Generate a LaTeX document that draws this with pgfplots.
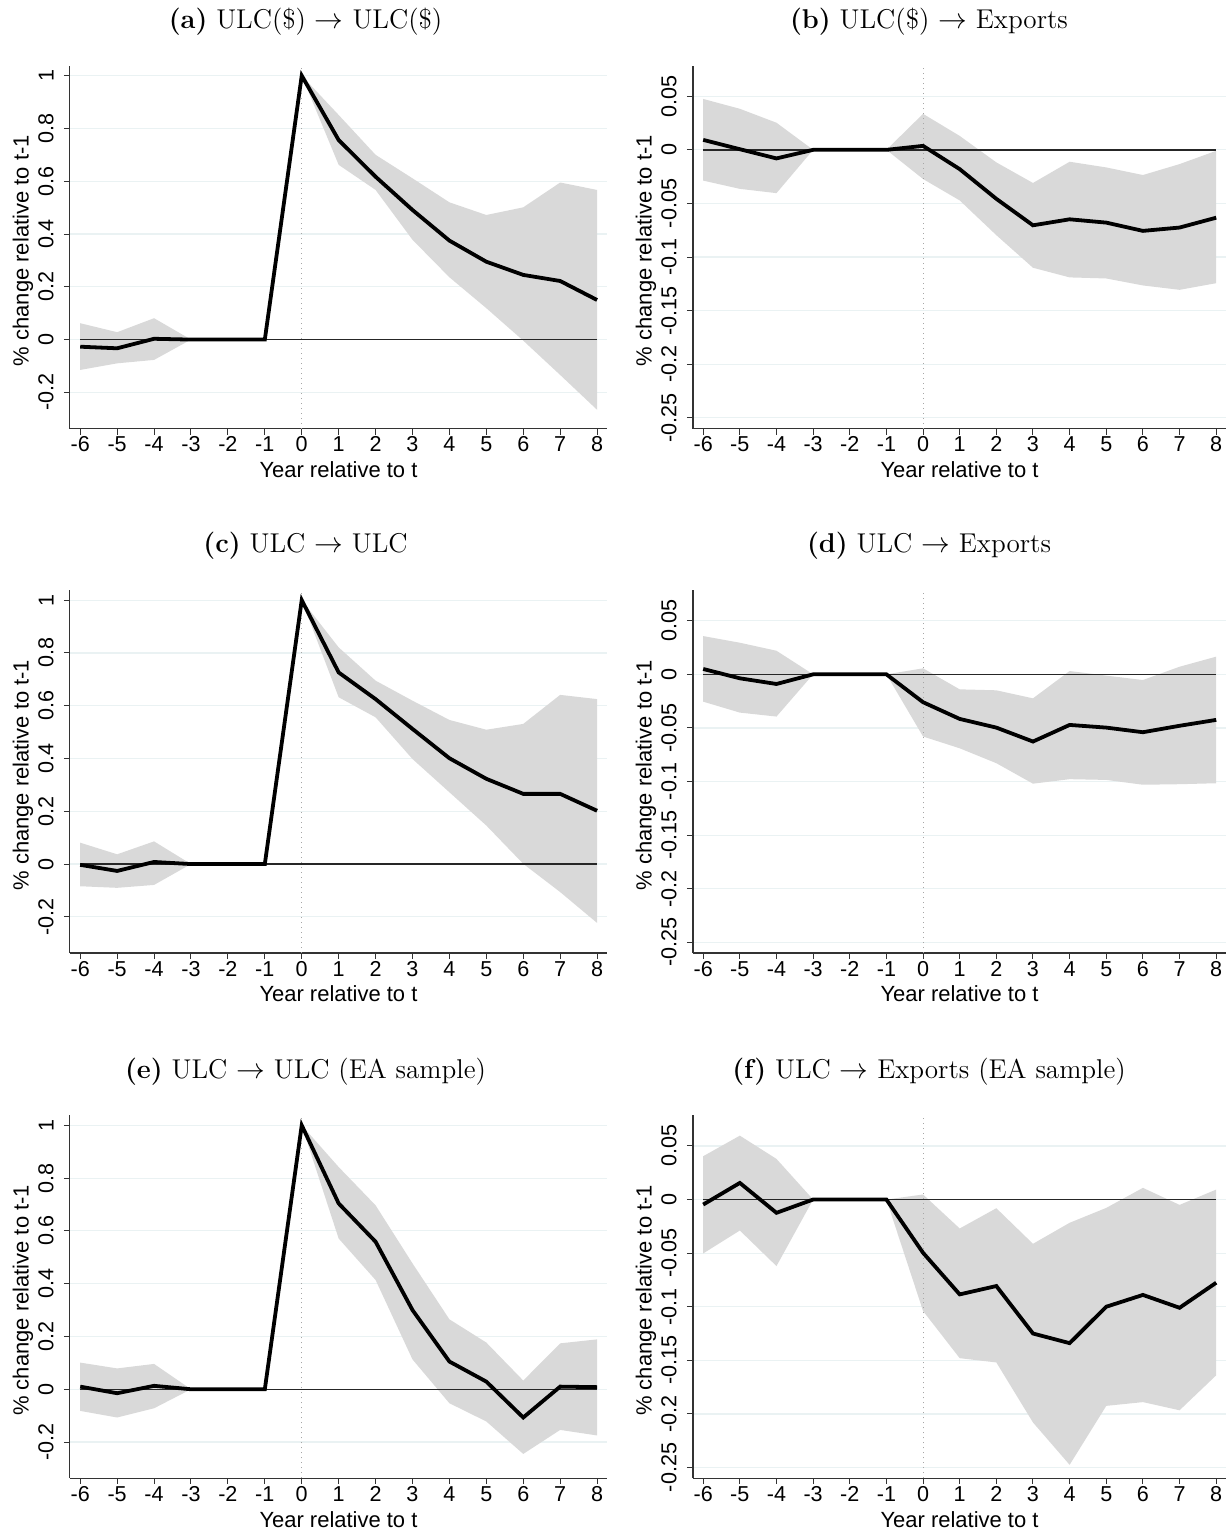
\documentclass[border=0pt]{standalone}
\usepackage{pgfplots}
\pgfplotsset{compat=1.18}
\usepackage{pgfplotstable}
\usepgfplotslibrary{fillbetween}
\usepackage{fontspec}
\newfontfamily\arial{Liberation Sans}
\definecolor{gridc}{HTML}{EAF2F3}
\definecolor{bandc}{HTML}{D9D9D9}

\pgfplotstableread{
x est lo hi
-6 -0.027 -0.115 0.062
-5 -0.033 -0.090 0.028
-4 0.003 -0.077 0.081
-3 0 0 0
-2 0 0 0
-1 0 0 0
0 1 1 1
1 0.756 0.662 0.851
2 0.617 0.567 0.700
3 0.491 0.378 0.611
4 0.375 0.236 0.520
5 0.295 0.119 0.472
6 0.245 -0.004 0.501
7 0.222 -0.134 0.595
8 0.150 -0.266 0.567
}\tA
\pgfplotstableread{
x est lo hi
-6 0.0093 -0.0287 0.0475
-5 0.0006 -0.0364 0.0383
-4 -0.008 -0.0404 0.0253
-3 0 0 0
-2 0 0 0
-1 0 0 0
0 0.0037 -0.0272 0.0336
1 -0.018 -0.0472 0.013
2 -0.0457 -0.0796 -0.0117
3 -0.0704 -0.110 -0.0309
4 -0.0648 -0.119 -0.0111
5 -0.0679 -0.120 -0.0164
6 -0.0756 -0.1265 -0.0235
7 -0.0725 -0.1306 -0.0133
8 -0.0633 -0.1244 -0.0009
}\tB
\pgfplotstableread{
x est lo hi
-6 -0.003 -0.084 0.081
-5 -0.026 -0.090 0.037
-4 0.008 -0.079 0.086
-3 0 0 0
-2 0 0 0
-1 0 0 0
0 1 1 1
1 0.726 0.632 0.821
2 0.625 0.556 0.695
3 0.512 0.398 0.619
4 0.401 0.272 0.546
5 0.323 0.146 0.509
6 0.266 0.001 0.531
7 0.266 -0.106 0.641
8 0.202 -0.223 0.625
}\tC
\pgfplotstableread{
x est lo hi
-6 0.005 -0.0255 0.0357
-5 -0.0037 -0.0357 0.0295
-4 -0.009 -0.0394 0.022
-3 0 0 0
-2 0 0 0
-1 0 0 0
0 -0.026 -0.058 0.0056
1 -0.0416 -0.069 -0.014
2 -0.0497 -0.0829 -0.0149
3 -0.0627 -0.102 -0.0224
4 -0.0472 -0.0978 0.0031
5 -0.0497 -0.0985 -0.0012
6 -0.054 -0.103 -0.0053
7 -0.048 -0.1025 0.0071
8 -0.0425 -0.1016 0.0165
}\tD
\pgfplotstableread{
x est lo hi
-6 0.010 -0.082 0.101
-5 -0.015 -0.107 0.079
-4 0.013 -0.072 0.096
-3 0 0 0
-2 0 0 0
-1 0 0 0
0 1 1 1
1 0.704 0.571 0.842
2 0.559 0.414 0.697
3 0.300 0.113 0.477
4 0.105 -0.053 0.265
5 0.029 -0.122 0.177
6 -0.107 -0.245 0.033
7 0.010 -0.154 0.174
8 0.008 -0.175 0.189
}\tE
\pgfplotstableread{
x est lo hi
-6 -0.0047 -0.0503 0.0404
-5 0.0155 -0.0289 0.0596
-4 -0.0124 -0.0621 0.0379
-3 0 0 0
-2 0 0 0
-1 0 0 0
0 -0.0497 -0.104 0.0047
1 -0.0885 -0.148 -0.027
2 -0.0807 -0.152 -0.0081
3 -0.125 -0.208 -0.0413
4 -0.134 -0.2475 -0.0217
5 -0.100 -0.1925 -0.0078
6 -0.089 -0.189 0.0109
7 -0.101 -0.1966 -0.005
8 -0.0776 -0.164 0.0093
}\tF

\pgfplotsset{
  irf/.style={
    scale only axis,
    height=181.75pt,
    axis x line*=bottom, axis y line*=left,
    xmin=-6.28, xmax=8.27,
    xtick={-6,-5,-4,-3,-2,-1,0,1,2,3,4,5,6,7,8},
    xticklabels={-6,-5,-4,-3,-2,-1,0,1,2,3,4,5,6,7,8},
    tick align=outside,
    major tick length=3pt,
    tick style={black!80, line width=0.5pt},
    axis line style={black!80, line width=0.6pt},
    ymajorgrids, grid style={color=gridc, line width=0.6pt},
    xticklabel style={font=\arial\fontsize{10.8}{12}\selectfont, anchor=north, inner sep=0pt},
    xticklabel shift=1pt,
    yticklabel style={font=\arial\fontsize{10.8}{12}\selectfont, rotate=90, anchor=south, inner sep=0pt},
    yticklabel shift=5pt,
    xlabel={Year relative to t},
    ylabel={\% change relative to t-1},
    every axis x label/.style={at={(axis description cs:0.5,0)}, anchor=base, yshift=-24.5pt, font=\arial\fontsize{11}{12}\selectfont},
    every axis y label/.style={at={(axis description cs:0,0.49)}, xshift=-23.5pt, rotate=90, anchor=center, font=\arial\fontsize{11}{12}\selectfont},
    every axis title/.style={anchor=base, yshift=18.6pt, font=\fontsize{13.6}{15}\selectfont},
    clip=false,
  },
  ulc/.style={
    irf, width=269pt,
    ymin=-0.337, ymax=1.038,
    ytick={-0.2,0,0.2,0.4,0.6,0.8,1},
    yticklabels={-0.2,0,0.2,0.4,0.6,0.8,1},
    title style={at={(axis description cs:0.4387,1)}},
  },
  exp/.style={
    irf, width=267pt,
    ymin=-0.26, ymax=0.0786,
    ytick={-0.25,-0.2,-0.15,-0.1,-0.05,0,0.05},
    yticklabels={-0.25,-0.2,-0.15,-0.1,-0.05,0,0.05},
    title style={at={(axis description cs:0.4428,1)}},
  },
}

\newcommand{\panel}[3]{%
  \addplot[gray!70, dotted, line width=0.5pt] coordinates {(0,#2) (0,#3)};
  \addplot[name path=hi, draw=none, forget plot] table[x=x,y=hi]{#1};
  \addplot[name path=lo, draw=none, forget plot] table[x=x,y=lo]{#1};
  \addplot[fill=bandc, draw=none] fill between[of=hi and lo];
  \addplot[black!85, line width=0.7pt] coordinates {(-6,0) (8,0)};
  \addplot[black, line width=1.9pt] table[x=x,y=est]{#1};
}

\begin{document}
\begin{tikzpicture}
\path (0,0) rectangle (616.5pt,-767pt);

\begin{axis}[ulc, at={(35pt,-32.85pt)}, anchor=north west,
  title={\textbf{(a)} ULC(\$) $\rightarrow$ ULC(\$)}]
\panel{\tA}{-0.337}{1.038}
\end{axis}

\begin{axis}[exp, at={(347pt,-32.85pt)}, anchor=north west,
  title={\textbf{(b)} ULC(\$) $\rightarrow$ Exports}]
\panel{\tB}{-0.26}{0.0786}
\end{axis}

\begin{axis}[ulc, at={(35pt,-295.5pt)}, anchor=north west,
  title={\textbf{(c)} ULC $\rightarrow$ ULC}]
\panel{\tC}{-0.337}{1.038}
\end{axis}

\begin{axis}[exp, at={(347pt,-295.5pt)}, anchor=north west,
  title={\textbf{(d)} ULC $\rightarrow$ Exports}]
\panel{\tD}{-0.26}{0.0786}
\end{axis}

\begin{axis}[ulc, at={(35pt,-558.5pt)}, anchor=north west,
  title={\textbf{(e)} ULC $\rightarrow$ ULC (EA sample)}]
\panel{\tE}{-0.337}{1.038}
\end{axis}

\begin{axis}[exp, at={(347pt,-558.5pt)}, anchor=north west,
  title={\textbf{(f)} ULC $\rightarrow$ Exports (EA sample)}]
\panel{\tF}{-0.26}{0.0786}
\end{axis}
\end{tikzpicture}
\end{document}
